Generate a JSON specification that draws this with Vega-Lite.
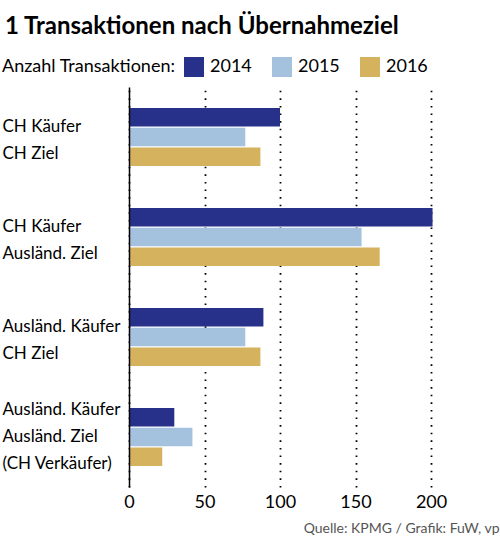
{
  "$schema": "https://vega.github.io/schema/vega-lite/v6.json",
  "width": 370,
  "height": 400,
  "autosize": "none",
  "padding": {"left": 129, "top": 87, "right": 1, "bottom": 58},
  "background": "white",
  "config": {
    "font": "Lato, sans-serif",
    "view": {"stroke": null}
  },
  "title": {
    "text": "1  Transaktionen nach Übernahmeziel",
    "anchor": "start",
    "frame": "bounds",
    "fontSize": 24,
    "fontWeight": "bold",
    "color": "black",
    "dx": 3,
    "dy": 0,
    "offset": 18
  },
  "data": {
    "values": [
      {"group": "CH Käufer|CH Ziel", "year": "2014", "value": 100},
      {"group": "CH Käufer|CH Ziel", "year": "2015", "value": 77},
      {"group": "CH Käufer|CH Ziel", "year": "2016", "value": 87},
      {"group": "CH Käufer|Ausländ. Ziel", "year": "2014", "value": 201},
      {"group": "CH Käufer|Ausländ. Ziel", "year": "2015", "value": 154},
      {"group": "CH Käufer|Ausländ. Ziel", "year": "2016", "value": 166},
      {"group": "Ausländ. Käufer|CH Ziel", "year": "2014", "value": 89},
      {"group": "Ausländ. Käufer|CH Ziel", "year": "2015", "value": 77},
      {"group": "Ausländ. Käufer|CH Ziel", "year": "2016", "value": 87},
      {"group": "Ausländ. Käufer|Ausländ. Ziel|(CH Verkäufer)", "year": "2014", "value": 30},
      {"group": "Ausländ. Käufer|Ausländ. Ziel|(CH Verkäufer)", "year": "2015", "value": 42},
      {"group": "Ausländ. Käufer|Ausländ. Ziel|(CH Verkäufer)", "year": "2016", "value": 22}
    ]
  },
  "mark": {"type": "bar"},
  "encoding": {
    "y": {
      "field": "group",
      "type": "nominal",
      "sort": null,
      "scale": {"paddingInner": 0.42, "paddingOuter": 0.21},
      "axis": {
        "title": null,
        "labelExpr": "split(datum.label, '|')",
        "labelAlign": "left",
        "labelBaseline": "middle",
        "labelOffset": {"condition": {"test": "indexof(datum.value, '(CH') >= 0", "value": -27}, "value": -10.5},
        "labelPadding": 127,
        "labelFontSize": 17,
        "labelLineHeight": 27,
        "labelColor": "black",
        "labelLimit": 200,
        "ticks": false,
        "tickSize": 0,
        "domain": true,
        "domainColor": "black",
        "domainWidth": 1.5,
        "grid": false,
        "zindex": 1
      }
    },
    "yOffset": {
      "field": "year",
      "type": "nominal",
      "scale": {"paddingInner": 0.06, "paddingOuter": 0}
    },
    "x": {
      "field": "value",
      "type": "quantitative",
      "scale": {"domain": [0, 245], "nice": false},
      "axis": {
        "values": [0, 50, 100, 150, 200],
        "grid": true,
        "gridColor": "black",
        "gridDash": [1.6, 6],
        "gridWidth": 1.8,
        "domain": false,
        "ticks": false,
        "labelFlush": false,
        "labelFontSize": 18,
        "labelColor": "black",
        "labelPadding": 6,
        "title": "Quelle: KPMG / Grafik: FuW, vp",
        "titleFontSize": 14,
        "titleFontWeight": "normal",
        "titleColor": "#555555",
        "titleAnchor": "end",
        "titlePadding": 10
      }
    },
    "color": {
      "field": "year",
      "type": "nominal",
      "scale": {"domain": ["2014", "2015", "2016"], "range": ["#283189", "#a4c1de", "#d5b25e"]},
      "legend": {
        "title": "Anzahl Transaktionen:",
        "orient": "none",
        "legendX": -127,
        "legendY": -30,
        "direction": "horizontal",
        "titleOrient": "left",
        "titleFontSize": 18,
        "titleFontWeight": "normal",
        "titleColor": "black",
        "titlePadding": 8,
        "titleBaseline": "middle",
        "titleLimit": 300,
        "symbolType": "square",
        "symbolSize": 400,
        "symbolStrokeWidth": 0,
        "labelFontSize": 18,
        "labelColor": "black",
        "labelOffset": 6,
        "columnPadding": 20
      }
    }
  }
}
